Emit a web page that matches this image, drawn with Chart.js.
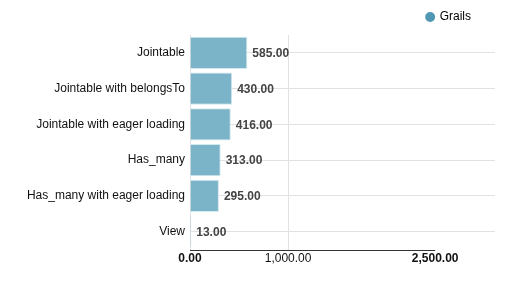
<!DOCTYPE html>
<html>
<head>
<meta charset="utf-8">
<script src="https://cdn.jsdelivr.net/npm/chart.js@4/dist/chart.umd.min.js"></script>
<style>
  html, body { margin: 0; padding: 0; background: #fff; }
  #wrap { width: 512px; height: 290px; position: relative; }
</style>
</head>
<body>
<div id="wrap"><canvas id="c" width="512" height="290"></canvas></div>
<script>
const categories = ["Jointable", "Jointable with belongsTo", "Jointable with eager loading", "Has_many", "Has_many with eager loading", "View"];
const grailsValues = [585, 430, 416, 313, 295, 13];
const xTickValues = [0, 1000, 2500];
const boldTicks = [0, 2500];
const seriesName = "Grails";

const FONT = "'Liberation Sans', Arial, sans-serif";
const fmt = v => Number(v).toLocaleString('en-US', {minimumFractionDigits: 2, maximumFractionDigits: 2});

const extras = {
  id: 'extras',
  afterLayout(chart) {
    if (chart.legend) {
      chart.legend.left -= 11; chart.legend.right -= 11;
      chart.legend.top -= 2; chart.legend.bottom -= 2;
    }
  },
  afterDatasetsDraw(chart) {
    const ctx = chart.ctx;
    const meta = chart.getDatasetMeta(0);
    ctx.save();
    ctx.font = "bold 12px " + FONT;
    ctx.fillStyle = '#444';
    ctx.textAlign = 'left';
    ctx.textBaseline = 'middle';
    meta.data.forEach((bar, i) => {
      ctx.fillText(fmt(chart.data.datasets[0].data[i]), bar.x + 5, bar.y + 1);
    });
    const xs = chart.scales.x;
    const y = Math.round(chart.chartArea.bottom) + 0.5;
    ctx.strokeStyle = '#333';
    ctx.lineWidth = 1;
    ctx.beginPath();
    ctx.moveTo(xs.getPixelForValue(0), y);
    ctx.lineTo(xs.getPixelForValue(xTickValues[xTickValues.length - 1]), y);
    ctx.stroke();
    ctx.restore();
  }
};

new Chart(document.getElementById('c'), {
  type: 'bar',
  data: {
    labels: categories,
    datasets: [{
      label: seriesName,
      data: grailsValues,
      backgroundColor: '#7bb4c8',
      borderColor: '#d4e8ef',
      borderWidth: 1,
      barPercentage: 0.9,
      categoryPercentage: 1.0
    }]
  },
  options: {
    indexAxis: 'y',
    responsive: false,
    animation: false,
    layout: { padding: { top: 0, right: 17, bottom: 22, left: 0 } },
    plugins: {
      legend: {
        position: 'top',
        align: 'end',
        labels: {
          usePointStyle: true,
          pointStyle: 'circle',
          boxWidth: 7,
          boxHeight: 7,
          color: '#111',
          font: { family: FONT, size: 12 },
          padding: 13,
          generateLabels(chart) {
            return [{ text: seriesName, fillStyle: '#4f97b3', strokeStyle: '#4f97b3', lineWidth: 0, pointStyle: 'circle', datasetIndex: 0 }];
          }
        }
      },
      tooltip: { enabled: false }
    },
    scales: {
      x: {
        min: 0,
        max: 3110,
        afterBuildTicks(scale) { scale.ticks = xTickValues.map(v => ({ value: v })); },
        border: { display: false },
        grid: {
          drawTicks: false,
          color: ctx => (ctx.tick && ctx.tick.value === 2500) ? 'rgba(0,0,0,0)' : '#e2e2e2'
        },
        ticks: {
          padding: 2,
          color: '#111',
          maxRotation: 0,
          autoSkip: false,
          font: ctx => ({ family: FONT, size: 12, weight: (ctx.tick && boldTicks.includes(ctx.tick.value)) ? 'bold' : 'normal' }),
          callback: v => fmt(v)
        }
      },
      y: {
        border: { display: false },
        grid: { offset: false, drawTicks: false, color: '#e2e2e2' },
        ticks: {
          padding: 5,
          color: '#111',
          font: { family: FONT, size: 12 }
        },
        afterFit(scale) { scale.width = 190; }
      }
    }
  },
  plugins: [extras]
});
</script>
</body>
</html>
